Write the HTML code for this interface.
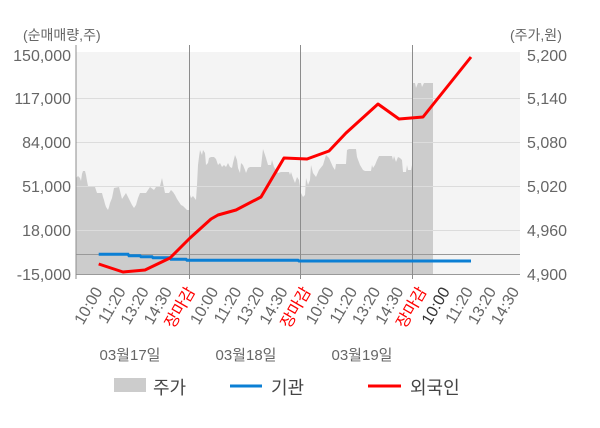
<!DOCTYPE html>
<html>
<head>
<meta charset="utf-8">
<style>
  html,body{margin:0;padding:0;background:#fff;}
  svg{display:block;}
  text{font-family:"Liberation Sans","Noto Sans CJK KR",sans-serif;}
</style>
</head>
<body>
<svg width="600" height="428" viewBox="0 0 600 428" xmlns="http://www.w3.org/2000/svg">
  <!-- plot background -->
  <rect x="76" y="52" width="444" height="222" fill="#f4f4f4"/>

  <!-- price area -->
  <polygon fill="#cccccc" points="
76,274 76,178 78,176 80,178 81,181 82,174 83,171 85,171 86,175 87,181 88,186 95,187 96,190 97,193 102,193 103,197 104,200 105,204 106,207 108,210 109,207 110,203 112,198 113,193 114,188 119,187 120,191 122,199 124,196 126,193 128,197 130,201 132,205 134,208 136,205 138,198 140,193 146,193 148,190 150,187 154,190 156,187 160,186 161,182 162,178 163,183 164,188 165,193 169,193 171,190 173,192 175,195 177,199 179,202 181,205 183,206 185,208 187,210 189,210
189.5,193 191,198 193,196 196,200 197,185 198,165 199,157 200,150 202,155 203,150 205,153 206,165 208,163 209,158 211,157 214,157 216,159 218,165 220,163 222,167 224,165 226,167 228,163 230,167 232,168 233,163 235,155 237,160 238,168 240,173 241,163 243,165 245,170 246,173 248,168 250,167 261,167 262,158 263,149 265,155 266,158 268,165 271,165 272,160 274,167 276,170 278,173 281,172 289,172 290,175 291,172 293,178 295,183 297,177 299,180 300,187
301,193 303,197 305,195 306,178 308,185 310,180 311,165 313,173 316,177 319,170 323,165 326,155 329,158 333,167 335,170 336,164 346,164 347,150 349,149 356,149 357,157 360,165 363,170 365,171 371,171 372,165 373,168 375,165 377,160 379,156 392,156 393,160 394,156 396,162 398,157 400,158 402,160 403,172 406,172 407,165 408,170 411,170 412,165
412.3,83 415,83 416,88 418,83 421,83 422,87 424,83 433,83 433,274"/>

  <!-- gridlines -->
  <g stroke="#dcdcdc" stroke-width="1">
    <line x1="76" y1="98.5" x2="520" y2="98.5"/>
    <line x1="76" y1="142.5" x2="520" y2="142.5"/>
    <line x1="76" y1="186.5" x2="520" y2="186.5"/>
    <line x1="76" y1="230.5" x2="520" y2="230.5"/>
  </g>
  <!-- zero line -->
  <line x1="76" y1="254.5" x2="520" y2="254.5" stroke="#999" stroke-width="1"/>
  <!-- bottom axis -->
  <line x1="76" y1="274.5" x2="520" y2="274.5" stroke="#999" stroke-width="1"/>
  <!-- left axis and separators -->
  <g stroke="#8c8c8c" stroke-width="1">
    <line x1="76" y1="45" x2="76" y2="279"/>
    <line x1="189.5" y1="45" x2="189.5" y2="279"/>
    <line x1="300.5" y1="45" x2="300.5" y2="279"/>
    <line x1="412.5" y1="45" x2="412.5" y2="279"/>
  </g>

  <!-- 기관 (blue) -->
  <polyline fill="none" stroke="#0b7fd4" stroke-width="3" points="98.7,254.3 128,254.3 129,255.7 140,255.7 141,256.7 152,256.7 153,257.7 170,257.7 171,259.3 186,259.3 187,260.3 298,260.3 299,261 471,261"/>

  <!-- 외국인 (red) -->
  <polyline fill="none" stroke="#ff0000" stroke-width="3" stroke-linejoin="round" points="98.7,264 123,272 145,270 170,258 190,238 211,219 218,215 236,210 261,197 284,158 307,159 329,151 346,133 378,104 399,119 423,117 471,57"/>

  <!-- axis headers -->
  <text x="23" y="40" font-size="14" fill="#666">(순매매량,주)</text>
  <text x="510" y="40" font-size="14" fill="#666">(주가,원)</text>

  <!-- left tick labels -->
  <g font-size="16" fill="#666" text-anchor="end">
    <text x="71" y="61">150,000</text>
    <text x="71" y="104">117,000</text>
    <text x="71" y="148">84,000</text>
    <text x="71" y="192">51,000</text>
    <text x="71" y="236">18,000</text>
    <text x="71" y="280">-15,000</text>
  </g>
  <!-- right tick labels -->
  <g font-size="16" fill="#666" text-anchor="start">
    <text x="527" y="61">5,200</text>
    <text x="527" y="104">5,140</text>
    <text x="527" y="148">5,080</text>
    <text x="527" y="192">5,020</text>
    <text x="527" y="236">4,960</text>
    <text x="527" y="280">4,900</text>
  </g>

  <!-- x labels -->
  <g font-size="16" text-anchor="end" fill="#666">
    <text transform="translate(103,291) rotate(-60)">10:00</text>
    <text transform="translate(126.2,291) rotate(-60)">11:20</text>
    <text transform="translate(149.3,291) rotate(-60)">13:20</text>
    <text transform="translate(172.5,291) rotate(-60)">14:30</text>
    <text transform="translate(195.6,291) rotate(-60)" fill="#ff0000">장마감</text>
    <text transform="translate(218.8,291) rotate(-60)">10:00</text>
    <text transform="translate(241.9,291) rotate(-60)">11:20</text>
    <text transform="translate(265.1,291) rotate(-60)">13:20</text>
    <text transform="translate(288.2,291) rotate(-60)">14:30</text>
    <text transform="translate(311.4,291) rotate(-60)" fill="#ff0000">장마감</text>
    <text transform="translate(334.5,291) rotate(-60)">10:00</text>
    <text transform="translate(357.7,291) rotate(-60)">11:20</text>
    <text transform="translate(380.8,291) rotate(-60)">13:20</text>
    <text transform="translate(404,291) rotate(-60)">14:30</text>
    <text transform="translate(427.1,291) rotate(-60)" fill="#ff0000">장마감</text>
    <text transform="translate(450.3,291) rotate(-60)" fill="#333">10:00</text>
    <text transform="translate(473.4,291) rotate(-60)">11:20</text>
    <text transform="translate(496.6,291) rotate(-60)">13:20</text>
    <text transform="translate(519.7,291) rotate(-60)">14:30</text>
  </g>

  <!-- date labels -->
  <g font-size="15" fill="#666" text-anchor="middle">
    <text x="130" y="360">03월17일</text>
    <text x="246" y="360">03월18일</text>
    <text x="362" y="360">03월19일</text>
  </g>

  <!-- legend -->
  <rect x="114" y="378" width="32" height="14" fill="#cccccc"/>
  <text x="153" y="394" font-size="18" fill="#444">주가</text>
  <line x1="230" y1="386" x2="262" y2="386" stroke="#0b7fd4" stroke-width="3"/>
  <text x="271" y="394" font-size="18" fill="#444">기관</text>
  <line x1="368" y1="386" x2="401" y2="386" stroke="#ff0000" stroke-width="3"/>
  <text x="410" y="394" font-size="18" fill="#444">외국인</text>
</svg>
</body>
</html>
